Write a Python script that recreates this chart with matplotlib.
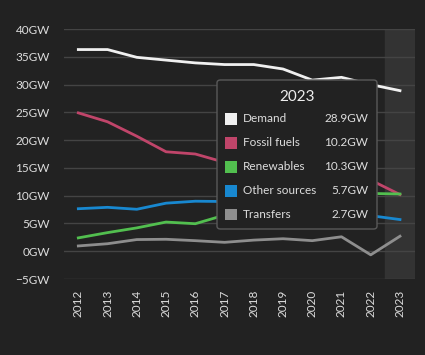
import matplotlib
matplotlib.use("Agg")
import matplotlib.pyplot as plt
from matplotlib.patches import FancyBboxPatch, Rectangle

years = list(range(2012, 2024))
demand = [36.3, 36.3, 34.9, 34.4, 33.9, 33.6, 33.6, 32.8, 30.8, 31.3, 30.0, 28.9]
fossil = [24.9, 23.3, 20.7, 17.9, 17.5, 16.0, 15.2, 14.8, 13.6, 13.9, 12.8, 10.2]
renewables = [2.4, 3.35, 4.2, 5.25, 4.95, 6.5, 7.5, 8.5, 9.4, 10.0, 10.4, 10.3]
other = [7.65, 7.9, 7.55, 8.65, 9.0, 8.95, 8.9, 8.6, 8.0, 7.2, 6.4, 5.7]
transfers = [0.95, 1.35, 2.1, 2.15, 1.9, 1.6, 2.0, 2.25, 1.9, 2.6, -0.65, 2.7]

series_names = ["Demand", "Fossil fuels", "Renewables", "Other sources", "Transfers"]
series_vals = [demand, fossil, renewables, other, transfers]
colors = ["#f0f0f0", "#c0456a", "#52bf4f", "#1888d0", "#8e8e8e"]
yticks = [-5, 0, 5, 10, 15, 20, 25, 30, 35, 40]
highlight_year = 2023

BG = "#222222"
W, H = 425, 355
plt.rcParams['font.family'] = ['Lato', 'DejaVu Sans']
fig = plt.figure(figsize=(W / 100, H / 100), dpi=100, facecolor=BG)
ax = fig.add_axes([63.7 / W, 1 - 279 / H, (414.6 - 63.7) / W, (279 - 29) / H])
ax.set_facecolor(BG)
ax.set_xlim(2011.5, 2023.5)
ax.set_ylim(-5, 40)

ax.axvspan(highlight_year - 0.5, highlight_year + 0.5, color="#333333", zorder=0)
for t in yticks:
    ax.axhline(t, color="#444444", lw=1, zorder=1)

for name, vals, c in zip(series_names, series_vals, colors):
    ax.plot(years, vals, color=c, lw=2, zorder=3, solid_joinstyle='round')

for s in ax.spines.values():
    s.set_visible(False)
ax.set_yticks(yticks)
ax.set_yticklabels([f"{t}GW".replace("-", "\u2212") for t in yticks])
ax.set_xticks(years)
ax.set_xticklabels([str(y) for y in years], rotation=90)
ax.tick_params(axis='both', length=0, colors="#dddddd", labelsize=8.5)
ax.tick_params(axis='y', pad=10)
ax.tick_params(axis='x', pad=8)

# tooltip
def fx(x):
    return x / W

def fy(y):
    return 1 - y / H

box = FancyBboxPatch((fx(217), fy(229)), fx(377) - fx(217), fy(80) - fy(229),
                     boxstyle="round,pad=0,rounding_size=0.008",
                     transform=fig.transFigure, facecolor=BG, edgecolor="#5a5a5a",
                     lw=1, zorder=10)
fig.add_artist(box)
idx = years.index(highlight_year)
fig.text(fx(297), fy(97), str(highlight_year), color="#eeeeee", fontsize=11,
         ha='center', va='center', zorder=11)
row_y = [118.5, 143, 166.5, 191, 214.5]
for name, vals, c, ry in zip(series_names, series_vals, colors, row_y):
    fig.add_artist(Rectangle((fx(225), fy(ry + 6)), fx(237) - fx(225), fy(ry - 6) - fy(ry + 6),
                             transform=fig.transFigure, facecolor=c, edgecolor='none', zorder=11))
    fig.text(fx(243), fy(ry), name, color="#dddddd", fontsize=8.5, ha='left', va='center', zorder=11)
    fig.text(fx(368), fy(ry), f"{vals[idx]:.1f}GW", color="#dddddd", fontsize=8.5,
             ha='right', va='center', zorder=11)

fig.savefig("out.png", dpi=100, facecolor=BG)
